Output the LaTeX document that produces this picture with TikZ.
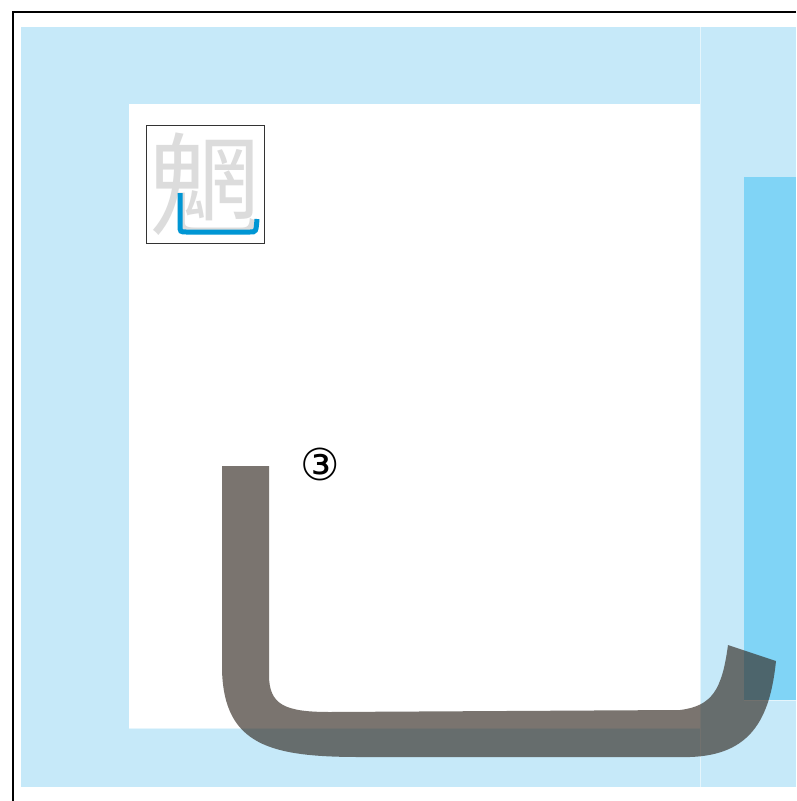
\documentclass[tikz,border=0pt]{standalone}
\usepackage{fontspec}
\newfontfamily\cjkfont{Noto Sans CJK SC}
\newfontfamily\dvfont{DejaVu Sans}
\definecolor{lightblue}{RGB}{198,233,249}
\definecolor{midblue}{RGB}{128,212,246}
\definecolor{strokegray}{RGB}{51,43,35}
\definecolor{glyphgray}{RGB}{220,220,220}
\definecolor{strokeblue}{RGB}{0,150,212}
\tikzset{
  panel/.style={fill=lightblue},
  barpanel/.style={fill=midblue},
  seam/.style={white, opacity=0.55, line width=0.8pt},
  bigstroke/.style={fill=strokegray, fill opacity=0.65},
  glyphbox/.style={draw=black!80, line width=0.6pt, minimum size=118pt, inner sep=0pt},
}
\begin{document}
\begin{tikzpicture}[x=1pt,y=-1pt]
\useasboundingbox (0,0) rectangle (796,801);
\fill[white] (0,0) rectangle (796,801);
% frame lines
\draw[line width=1.3pt] (796,12) -- (13,12) -- (13,801);
% backgrounds
\fill[panel] (21,27) rectangle (700,787);
\fill[white] (129,104) rectangle (700,728);
\fill[panel] (700,27) rectangle (796,787);
\fill[barpanel] (744,177) rectangle (796,700);
\draw[seam] (700,27) -- (700,787);
\draw[seam] (129,728) -- (700,728);
\draw[seam] (744,700) -- (796,700);
% big stroke
\fill[bigstroke, shift={(222,466)}]
  (0,0) -- (47,0) -- (47,209)
  .. controls (47,239) and (63,246) .. (108,246)
  -- (458,244)
  .. controls (490,240) and (500,224) .. (506,179)
  -- (554,195)
  .. controls (548,254) and (528,289) .. (468,291)
  -- (138,291)
  .. controls (48,291) and (2,279) .. (0,204)
  -- cycle;
% glyph box
\node[glyphbox] (box) at (205,184.5) {};
\node[font=\cjkfont\fontsize{112}{112}\selectfont, text=glyphgray, inner sep=0pt] (glyph) at (box.center) {魍};
\draw[strokeblue, line width=5pt]
  (180,193) -- (180,225) .. controls (180,232) .. (187,232)
  -- (250,232) .. controls (256,232) .. (257,219);
% number
\node[font=\dvfont\fontsize{44}{44}\selectfont, inner sep=0pt] (num) at (320,464) {③};
\end{tikzpicture}
\end{document}
